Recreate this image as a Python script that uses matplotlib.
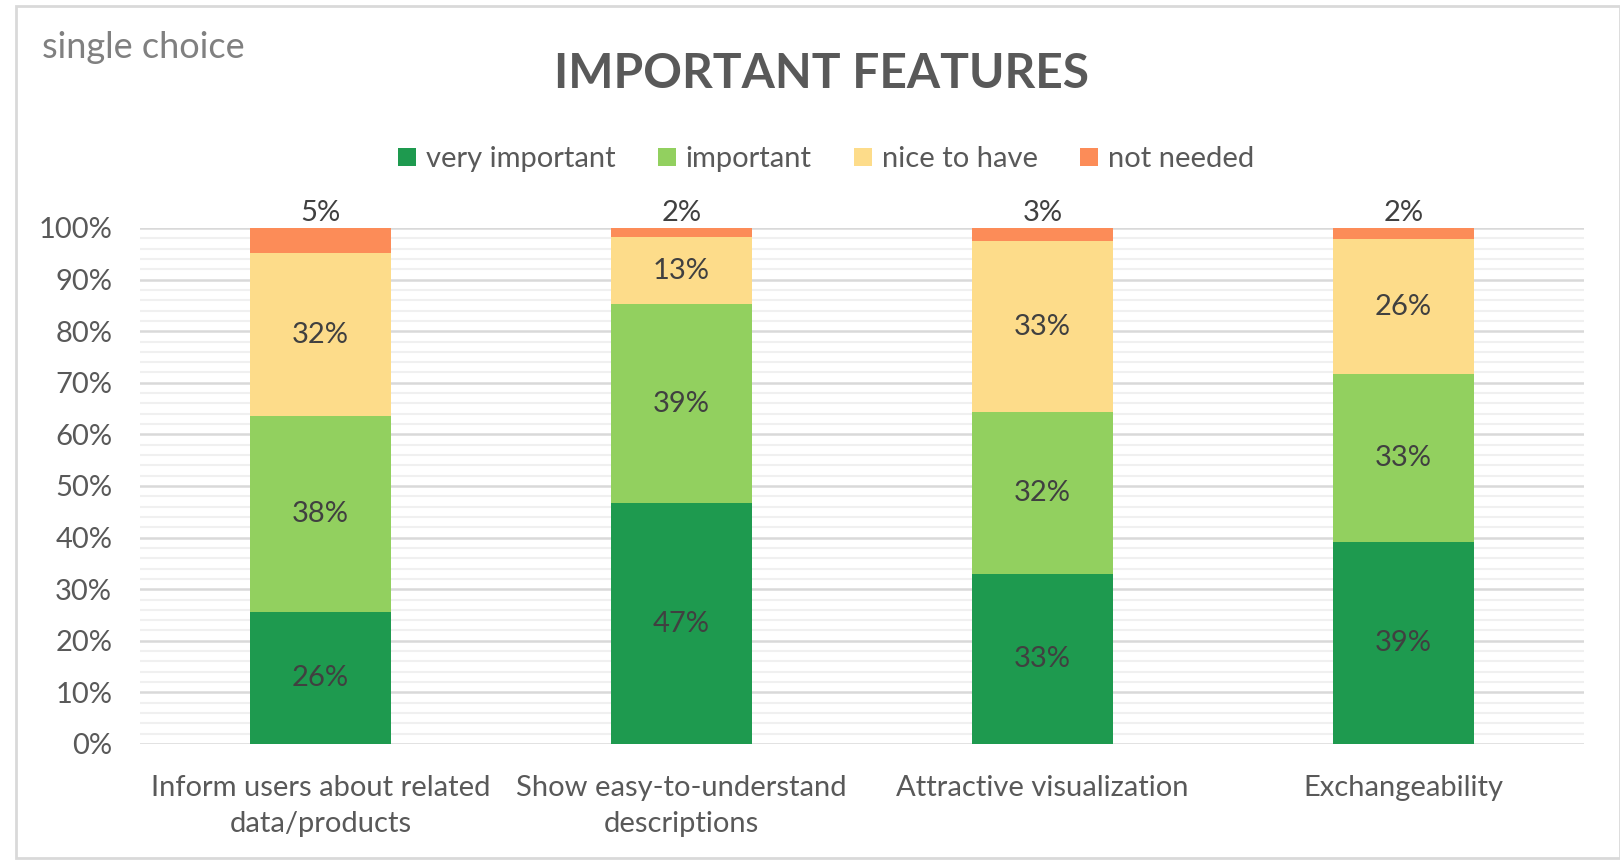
import numpy as np
import matplotlib
matplotlib.use("Agg")
import matplotlib.pyplot as plt
from matplotlib.patches import Rectangle

plt.rcParams['font.family'] = ['Lato', 'DejaVu Sans']

categories = ["Inform users about related\ndata/products",
              "Show easy-to-understand\ndescriptions",
              "Attractive visualization",
              "Exchangeability"]
series_names = ["very important", "important", "nice to have", "not needed"]
very_important = [25.5, 46.7, 32.9, 39.1]
important = [38.0, 38.5, 31.5, 32.6]
nice_to_have = [31.6, 13.1, 33.0, 26.1]
not_needed = [4.9, 1.7, 2.6, 2.2]
label_very = ["26%", "47%", "33%", "39%"]
label_imp = ["38%", "39%", "32%", "33%"]
label_nice = ["32%", "13%", "33%", "26%"]
label_not = ["5%", "2%", "3%", "2%"]
yticks = [0, 10, 20, 30, 40, 50, 60, 70, 80, 90, 100]

colors = ["#1e9a4f", "#92d05f", "#fddc8a", "#fc8c58"]
text_col = "#404040"
axis_col = "#595959"

fig = plt.figure(figsize=(16.2, 8.61), dpi=100)
ax = fig.add_axes([0.0864, 0.1359, 0.8914, 0.5993])

x = np.arange(len(categories))
width = 0.39
series = [very_important, important, nice_to_have, not_needed]
labels = [label_very, label_imp, label_nice, label_not]
bottom = np.zeros(len(categories))
for vals, col, name, labs, i in zip(series, colors, series_names, labels, range(4)):
    vals = np.array(vals)
    ax.bar(x, vals, width, bottom=bottom, color=col, label=name, zorder=3)
    for xi, b, v, lab in zip(x, bottom, vals, labs):
        if i == 3:
            # small top segment: label sits above the bar
            ax.text(xi, b + v + 0.4, lab, ha="center", va="bottom",
                    fontsize=21, color=text_col)
        else:
            ax.text(xi, b + v / 2, lab, ha="center", va="center",
                    fontsize=21, color=text_col)
    bottom += vals

ax.set_xlim(-0.5, 3.5)
ax.set_ylim(0, 100)
ax.set_yticks(yticks)
ax.set_yticklabels([f"{t}%" for t in yticks])
ax.set_yticks(np.arange(0, 101, 2), minor=True)
ax.grid(axis="y", which="minor", color="#f0f0f0", linewidth=1.5, zorder=0)
ax.grid(axis="y", which="major", color="#d9d9d9", linewidth=1.8, zorder=1)
ax.set_xticks(x)
ax.set_xticklabels(categories, fontsize=21, color=axis_col, linespacing=1.5)
ax.tick_params(axis="y", labelsize=21, labelcolor=axis_col, length=0, pad=20)
ax.tick_params(axis="x", length=0, pad=22)
ax.tick_params(which="minor", length=0)
for s in ax.spines.values():
    s.set_visible(False)

fig.text(0.507, 0.914, "IMPORTANT FEATURES", ha="center", va="center",
         fontsize=34.5, fontweight="bold", color=axis_col)
fig.text(0.026, 0.945, "single choice", ha="left", va="center",
         fontsize=26, color="#808080")

fig.legend(loc="center", bbox_to_anchor=(0.51, 0.815), ncol=4, frameon=False,
           fontsize=21, handlelength=0.6, handleheight=0.6, handletextpad=0.35,
           columnspacing=1.45, labelcolor=axis_col)

fig.patches.append(Rectangle((0.0099, 0.003), 0.99, 0.99, transform=fig.transFigure,
                             fill=False, edgecolor="#d9d9d9", linewidth=2))

fig.savefig("out.png", dpi=100)
